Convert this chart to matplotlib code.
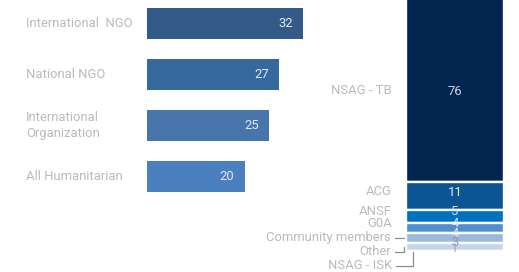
import matplotlib
matplotlib.use('Agg')
import numpy as np
import matplotlib.pyplot as plt
from matplotlib.transforms import blended_transform_factory

plt.rcParams['font.family'] = ['Roboto', 'DejaVu Sans']

# left chart data
org_types = ['International  NGO', 'National NGO', 'International\nOrganization', 'All Humanitarian']
org_values = [32, 27, 25, 20]
org_colors = ['#345b87', '#35689d', '#4775ac', '#4a80c0']

# right chart data (stacked, top to bottom)
actors = ['NSAG - TB', 'ACG', 'ANSF', 'G0A', 'Community members', 'Other', 'NSAG - ISK']
actor_values = [76, 11, 5, 4, 4, 3, 1]
actor_colors = ['#02264f', '#0b5595', '#0070c0', '#4f8fcf', '#9ab8e0', '#c5d5ee', '#e6edf8']
num_colors = ['#d0d6de', '#e8eef5', '#cfe0f2', '#d3e2f3', '#dde8f6', '#8e9aab', '#a3acb8']
# pixel nudges for labels / numbers (down positive)
label_dy = [6, -4, -4.5, -4, 0, 5, 14]
num_dy = [6.5, -3, -4.5, -4, -4, -4, -3]
leaders = [False, False, False, False, True, True, True]

W, H = 519, 272
label_gray = '#bababa'
fs = 9.4

fig = plt.figure(figsize=(W / 100, H / 100), dpi=100)

# ---- left horizontal bars ----
ax = fig.add_axes([147 / W, 0, 156 / W, 1])
ypos = np.arange(len(org_values))
ax.barh(ypos, org_values, height=0.61, color=org_colors)
ax.set_xlim(0, 32)
ax.set_ylim((H - 23.5) / 51, -23.5 / 51)
ax.axis('off')
tr = blended_transform_factory(ax.transAxes, ax.transData)
for y, lab, v in zip(ypos, org_types, org_values):
    ax.text((26 - 147) / 156, y, lab, transform=tr, ha='left', va='center',
            fontsize=fs, color=label_gray, linespacing=1.25)
    ax.annotate(str(v), xy=(v, y), xytext=(-10, 0), textcoords='offset pixels',
                ha='right', va='center', fontsize=fs, color='#e3e9f1')

# ---- right stacked bar ----
ax2 = fig.add_axes([406 / W, 0, 98 / W, 1])
top_px, scale = -12, 2.55
ax2.set_ylim((H - top_px) / scale, -top_px / scale)
ax2.set_xlim(0, 1)
ax2.axis('off')
bottoms = np.concatenate([[0], np.cumsum(actor_values)[:-1]])
ax2.bar(0.5, actor_values, bottom=bottoms, width=1, color=actor_colors,
        edgecolor='white', linewidth=1.7)
tr2 = blended_transform_factory(ax2.transAxes, ax2.transData)
for i, (lab, v, b) in enumerate(zip(actors, actor_values, bottoms)):
    c = b + v / 2
    ax2.annotate(str(v), xy=(0.5, c), xytext=(0, -num_dy[i]), textcoords='offset pixels',
                 ha='center', va='center', fontsize=fs, color=num_colors[i])
    if leaders[i]:
        ax2.annotate(lab, xy=(-2 / 98 if i < 6 else 7 / 98, c), xycoords=tr2,
                     xytext=(-13 if i < 6 else -21, -label_dy[i]), textcoords='offset pixels',
                     ha='right', va='center', fontsize=fs, color=label_gray,
                     arrowprops=dict(arrowstyle='-', color='#8c8c8c', lw=0.9,
                                     shrinkA=1, shrinkB=0,
                                     connectionstyle='angle,angleA=0,angleB=90,rad=0'))
    else:
        ax2.annotate(lab, xy=(0, c), xycoords=tr2, xytext=(-14, -label_dy[i]),
                     textcoords='offset pixels', ha='right', va='center',
                     fontsize=fs, color=label_gray)

fig.savefig('out.png', dpi=100)
